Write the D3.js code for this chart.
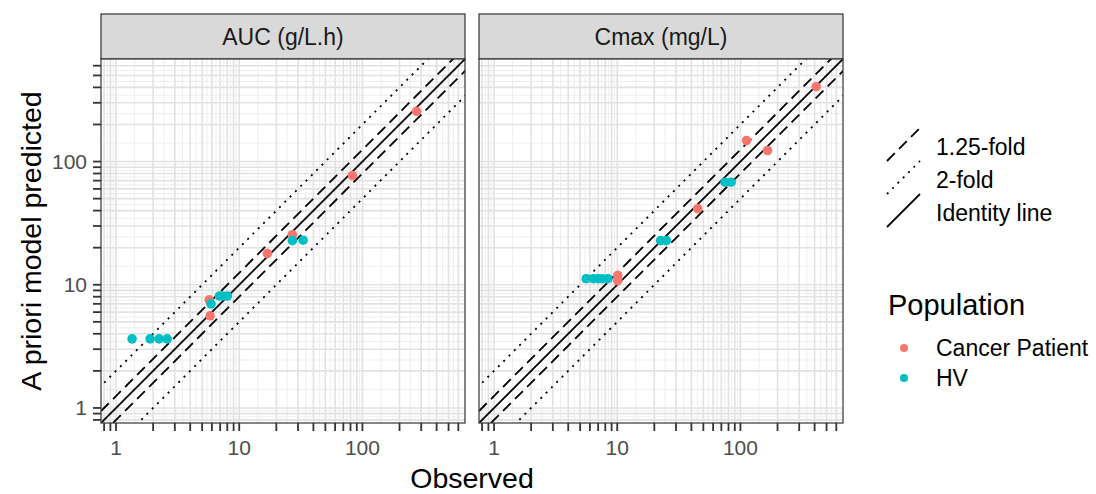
<!DOCTYPE html>
<html>
<head>
<meta charset="utf-8">
<script src="https://cdn.jsdelivr.net/npm/d3@7"></script>
<style>
  body { margin: 0; background: #fff; }
  text { font-family: "Liberation Sans", Arial, sans-serif; }
</style>
</head>
<body>
<div id="chart"></div>
<script>
// values: [observed, predicted]
const panels = ["AUC (g/L.h)", "Cmax (mg/L)"];
const aucCancer = [[275, 256], [83, 77], [27, 25.5], [16.9, 17.9], [5.7, 7.55], [5.8, 5.6]];
const aucHV = [[27, 22.8], [33, 23], [1.35, 3.64], [1.89, 3.64], [2.24, 3.64], [2.6, 3.64],
               [5.9, 7.0], [6.9, 8.1], [7.3, 8.1], [8.0, 8.1]];
const cmaxCancer = [[412, 405], [112, 148], [166, 123], [45, 41.5], [10.1, 11.9], [10.1, 10.8]];
const cmaxHV = [[75, 68], [84, 68], [22.5, 22.8], [25, 22.8], [5.6, 11.2], [6.4, 11.2],
                [7.0, 11.2], [7.6, 11.2], [8.4, 11.2]];
const folds = [
  { name: "1.25-fold", factors: [1.25, 1 / 1.25], dash: "11,6" },
  { name: "2-fold", factors: [2, 0.5], dash: "2,5.5" },
  { name: "Identity line", factors: [1], dash: null }
];
const populations = ["Cancer Patient", "HV"];
const tickLabels = [1, 10, 100];
const domain = [0.755, 680];

const color = d3.scaleOrdinal().domain(populations).range(["#F8766D", "#00BFC4"]);

const W = 1096, H = 494;
const panelSize = 364, panelTop = 59, stripH = 45;
const panelLeft = [101, 479];

const svg = d3.select("#chart").append("svg").attr("width", W).attr("height", H);

const x = d3.scaleLog().domain(domain).range([0, panelSize]);
const y = d3.scaleLog().domain(domain).range([panelSize, 0]);

// every n*10^k, for ticks and gridlines
const logTicks = [];
for (let k = -1; k <= 2; k++) for (let n = 1; n <= 9; n++) {
  const v = n * Math.pow(10, k);
  if (v >= domain[0] && v <= domain[1]) logTicks.push(v);
}
const minorTicks = [];
for (let i = 0; i < logTicks.length - 1; i++) minorTicks.push(Math.sqrt(logTicks[i] * logTicks[i + 1]));

const panelData = [
  { cancer: aucCancer, hv: aucHV },
  { cancer: cmaxCancer, hv: cmaxHV }
];

svg.append("defs").append("clipPath").attr("id", "clip")
  .append("rect").attr("width", panelSize).attr("height", panelSize);

panels.forEach((title, p) => {
  const g = svg.append("g").attr("transform", `translate(${panelLeft[p]},${panelTop})`);

  // strip
  g.append("rect").attr("x", 0).attr("y", -stripH).attr("width", panelSize).attr("height", stripH)
    .attr("fill", "#d9d9d9").attr("stroke", "#333").attr("stroke-width", 1.2);
  g.append("text").attr("x", panelSize / 2).attr("y", -stripH / 2).attr("dy", "0.35em")
    .attr("text-anchor", "middle").attr("font-size", 23).attr("fill", "#1a1a1a").text(title);

  g.append("rect").attr("width", panelSize).attr("height", panelSize).attr("fill", "#fff");

  const grid = g.append("g");
  grid.selectAll(".vmin").data(minorTicks).enter().append("line")
    .attr("x1", d => x(d)).attr("x2", d => x(d)).attr("y1", 0).attr("y2", panelSize)
    .attr("stroke", "#ececec").attr("stroke-width", 0.9);
  grid.selectAll(".hmin").data(minorTicks).enter().append("line")
    .attr("y1", d => y(d)).attr("y2", d => y(d)).attr("x1", 0).attr("x2", panelSize)
    .attr("stroke", "#ececec").attr("stroke-width", 0.9);
  grid.selectAll(".vmaj").data(logTicks).enter().append("line")
    .attr("x1", d => x(d)).attr("x2", d => x(d)).attr("y1", 0).attr("y2", panelSize)
    .attr("stroke", "#e2e2e2").attr("stroke-width", 1.6);
  grid.selectAll(".hmaj").data(logTicks).enter().append("line")
    .attr("y1", d => y(d)).attr("y2", d => y(d)).attr("x1", 0).attr("x2", panelSize)
    .attr("stroke", "#e2e2e2").attr("stroke-width", 1.6);

  // reference lines
  const lines = g.append("g").attr("clip-path", "url(#clip)");
  folds.forEach(f => {
    f.factors.forEach(k => {
      lines.append("line")
        .attr("x1", x(0.1)).attr("y1", y(0.1 * k))
        .attr("x2", x(10000)).attr("y2", y(10000 * k))
        .attr("stroke", "#000").attr("stroke-width", 1.8)
        .attr("stroke-dasharray", f.dash);
    });
  });

  // points
  const pts = g.append("g").attr("clip-path", "url(#clip)");
  const d = panelData[p];
  [["Cancer Patient", d.cancer], ["HV", d.hv]].forEach(([pop, arr]) => {
    pts.selectAll(null).data(arr).enter().append("circle")
      .attr("cx", v => x(v[0])).attr("cy", v => y(v[1])).attr("r", 4.8)
      .attr("fill", color(pop));
  });

  g.append("rect").attr("width", panelSize).attr("height", panelSize)
    .attr("fill", "none").attr("stroke", "#333").attr("stroke-width", 1.2);

  // x axis
  const xa = g.append("g").attr("transform", `translate(0,${panelSize})`);
  xa.selectAll("line").data(logTicks).enter().append("line")
    .attr("x1", v => x(v)).attr("x2", v => x(v)).attr("y1", 0).attr("y2", 8)
    .attr("stroke", "#333").attr("stroke-width", 1.8);
  xa.selectAll("text").data(tickLabels).enter().append("text")
    .attr("x", v => x(v)).attr("y", 25).attr("dy", "0.35em").attr("text-anchor", "middle")
    .attr("font-size", 21).attr("fill", "#4d4d4d").text(v => v);

  if (p === 0) {
    const ya = g.append("g");
    ya.selectAll("line").data(logTicks).enter().append("line")
      .attr("y1", v => y(v)).attr("y2", v => y(v)).attr("x1", 0).attr("x2", -8)
      .attr("stroke", "#333").attr("stroke-width", 1.8);
    ya.selectAll("text").data(tickLabels).enter().append("text")
      .attr("x", -14).attr("y", v => y(v)).attr("dy", "0.35em").attr("text-anchor", "end")
      .attr("font-size", 21).attr("fill", "#4d4d4d").text(v => v);
  }
});

// axis titles
svg.append("text").attr("x", (panelLeft[0] + panelLeft[1] + panelSize) / 2).attr("y", 478)
  .attr("dy", "0.35em").attr("text-anchor", "middle").attr("font-size", 28.5).attr("fill", "#000")
  .text("Observed");
svg.append("text").attr("transform", `translate(31,${panelTop + panelSize / 2}) rotate(-90)`)
  .attr("dy", "0.35em").attr("text-anchor", "middle").attr("font-size", 28.5).attr("fill", "#000")
  .text("A priori model predicted");

// line legend
const lineLegend = svg.append("g").attr("transform", "translate(887,128)");
folds.forEach((f, i) => {
  const row = lineLegend.append("g").attr("transform", `translate(0,${i * 33})`);
  row.append("line").attr("x1", 0).attr("y1", 33).attr("x2", 33).attr("y2", 0)
    .attr("stroke", "#000").attr("stroke-width", 1.8).attr("stroke-dasharray", f.dash);
  row.append("text").attr("x", 49).attr("y", 19).attr("dy", "0.35em")
    .attr("font-size", 23).attr("fill", "#000").text(f.name);
});

// population legend
svg.append("text").attr("x", 888).attr("y", 305).attr("dy", "0.35em")
  .attr("font-size", 29).attr("fill", "#000").text("Population");
populations.forEach((pop, i) => {
  svg.append("circle").attr("cx", 904).attr("cy", 348 + i * 30).attr("r", 4)
    .attr("fill", color(pop));
  svg.append("text").attr("x", 936).attr("y", 348 + i * 30).attr("dy", "0.35em")
    .attr("font-size", 23).attr("fill", "#000").text(pop);
});
</script>
</body>
</html>
